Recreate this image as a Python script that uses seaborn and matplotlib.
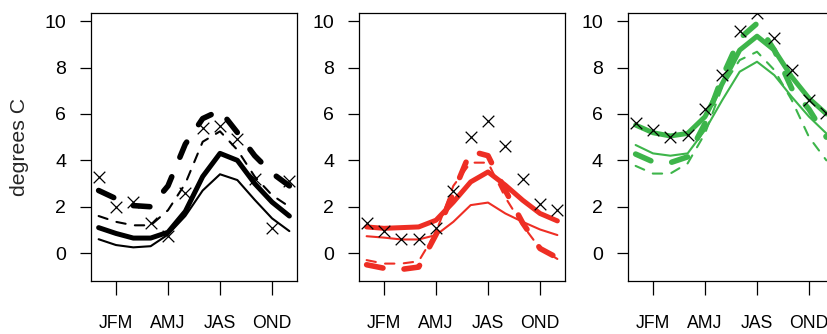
import matplotlib
matplotlib.use("Agg")
import matplotlib.pyplot as plt
import seaborn as sns
import pandas as pd

months = list(range(1, 13))
tick_pos = [2, 5, 8, 11]
tick_labels = ["JFM", "AMJ", "JAS", "OND"]
ytick_vals = [0, 2, 4, 6, 8, 10]

black_obs = [3.3, 2.0, 2.2, 1.3, 0.75, 2.6, 5.4, 5.5, 4.9, 3.2, 1.1, 3.1]
black_thick = [1.1, 0.85, 0.65, 0.65, 0.9, 1.8, 3.3, 4.3, 4.0, 3.0, 2.2, 1.6]
black_thin = [0.6, 0.35, 0.25, 0.3, 0.8, 1.6, 2.7, 3.4, 3.15, 2.3, 1.5, 0.95]
black_thick_dash = [2.7, 2.35, 2.05, 2.0, 2.9, 4.7, 5.8, 6.15, 5.2, 4.2, 3.45, 2.9]
black_thin_dash = [1.6, 1.35, 1.2, 1.2, 1.85, 3.0, 4.8, 5.25, 4.45, 3.3, 2.5, 2.0]

red_obs = [1.3, 0.95, 0.6, 0.6, 1.1, 2.67, 5.0, 5.7, 4.6, 3.2, 2.14, 1.88]
red_thick = [1.13, 1.07, 1.1, 1.13, 1.42, 2.2, 3.07, 3.5, 2.93, 2.28, 1.71, 1.39]
red_thin = [0.73, 0.67, 0.59, 0.59, 0.78, 1.35, 2.07, 2.18, 1.71, 1.35, 1.02, 0.78]
red_thick_dash = [-0.5, -0.65, -0.7, -0.6, 0.8, 2.6, 4.4, 4.2, 2.7, 1.3, 0.2, -0.2]
red_thin_dash = [-0.3, -0.45, -0.45, -0.35, 0.9, 2.9, 3.9, 3.9, 2.4, 1.2, 0.2, -0.25]

green_obs = [5.59, 5.3, 5.01, 5.11, 6.2, 7.67, 9.57, 10.37, 9.28, 7.89, 6.62, 6.06]
green_thick = [5.52, 5.19, 5.05, 5.16, 5.88, 7.31, 8.75, 9.35, 8.75, 7.6, 6.67, 6.0]
green_thin = [4.66, 4.3, 4.2, 4.3, 5.3, 6.6, 7.82, 8.25, 7.67, 6.74, 5.88, 5.16]
green_thick_dash = [4.27, 3.94, 3.9, 4.15, 5.59, 7.6, 9.25, 9.9, 8.75, 7.1, 6.2, 5.0]
green_thin_dash = [3.76, 3.43, 3.43, 3.87, 5.16, 7.17, 8.32, 8.68, 7.89, 6.6, 5.0, 4.0]

panels = [
    ("#000000", black_obs, black_thick, black_thin, black_thick_dash, black_thin_dash),
    ("#EE2E24", red_obs, red_thick, red_thin, red_thick_dash, red_thin_dash),
    ("#3DB54A", green_obs, green_thick, green_thin, green_thick_dash, green_thin_dash),
]

sns.set_style("white")
plt.rcParams["font.family"] = ["Liberation Sans", "DejaVu Sans"]
plt.rcParams["font.size"] = 13

W, H = 827, 334
fig = plt.figure(figsize=(W / 100, H / 100), dpi=100)
lefts = [91, 359, 628]
pw = 206
top, bottom = 13, 281

for i, (col, obs, thick, thin, thick_d, thin_d) in enumerate(panels):
    ax = fig.add_axes([lefts[i] / W, (H - bottom) / H, pw / W, (bottom - top) / H])
    df = pd.DataFrame({"month": months, "obs": obs, "thick": thick, "thin": thin,
                       "thick_d": thick_d, "thin_d": thin_d})
    sns.lineplot(data=df, x="month", y="thin", ax=ax, color=col, lw=1.5,
                 solid_capstyle="round", solid_joinstyle="round")
    sns.lineplot(data=df, x="month", y="thick", ax=ax, color=col, lw=3.6,
                 solid_capstyle="round", solid_joinstyle="round")
    sns.lineplot(data=df, x="month", y="thin_d", ax=ax, color=col, lw=1.5)
    ax.lines[-1].set_dashes([4.5, 4.5])
    ax.lines[-1].set_dash_capstyle("round")
    sns.lineplot(data=df, x="month", y="thick_d", ax=ax, color=col, lw=4.0)
    ax.lines[-1].set_dashes([3.0, 3.8])
    ax.lines[-1].set_dash_capstyle("round")
    sns.scatterplot(data=df, x="month", y="obs", ax=ax, marker="x", color="black",
                    s=70, linewidth=0.9, zorder=5)

    ax.set_xlim(0.56, 12.44)
    ax.set_ylim(-1.2, 10.35)
    ax.set_xticks(tick_pos)
    ax.set_xticklabels(tick_labels)
    ax.set_yticks(ytick_vals)
    ax.set_yticklabels([str(v) for v in ytick_vals])
    ax.set_xlabel("")
    ax.set_ylabel("")
    for s in ax.spines.values():
        s.set_visible(True)
        s.set_color("black")
        s.set_linewidth(0.9)
    ax.tick_params(axis="x", direction="out", length=10, width=0.9, pad=14.5,
                   colors="black", labelsize=12.7, bottom=True)
    ax.tick_params(axis="y", direction="out", length=8, width=0.9, pad=10,
                   colors="black", labelsize=14, left=True)

fig.text(20 / W, 1 - 147 / H, "degrees C", rotation=90, ha="center", va="center",
         fontsize=15.3)

fig.savefig("out.png", dpi=100)
